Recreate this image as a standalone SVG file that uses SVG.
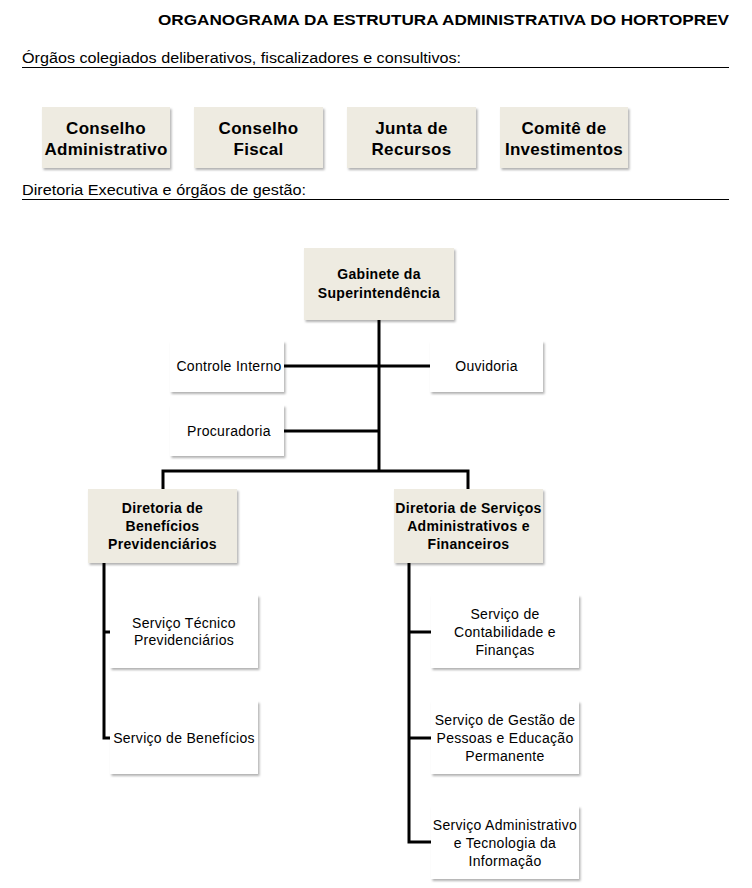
<svg xmlns="http://www.w3.org/2000/svg" width="752" height="888" viewBox="0 0 752 888">
<style>
text{font-family:"Liberation Sans",Arial,sans-serif;fill:#000}
.t{font-size:14px;font-weight:bold}
.h{font-size:14px}
.b16{font-size:17px;font-weight:bold;text-anchor:middle;letter-spacing:0.3px}
.b13{font-size:14px;font-weight:bold;text-anchor:middle;letter-spacing:0.3px}
.r13{font-size:14px;text-anchor:middle;letter-spacing:0.3px}
.beige{fill:#EEEBE1;filter:url(#sh)}
.white{fill:#FFFFFF;filter:url(#sh)}
.ln{stroke:#000;stroke-width:3;fill:none}
.ul{stroke:#000;stroke-width:1.2}
</style>
<defs>
<filter id="sh" x="-10%" y="-10%" width="125%" height="130%">
<feDropShadow dx="1.5" dy="2" stdDeviation="1.2" flood-color="#000" flood-opacity="0.3"/>
</filter>
</defs>
<rect width="752" height="888" fill="#fff"/>
<text class="t" x="158" y="25" textLength="571" lengthAdjust="spacingAndGlyphs">ORGANOGRAMA DA ESTRUTURA ADMINISTRATIVA DO HORTOPREV</text>
<text class="h" x="22" y="63" textLength="439" lengthAdjust="spacingAndGlyphs">Órgãos colegiados deliberativos, fiscalizadores e consultivos:</text>
<line class="ul" x1="22" y1="67.5" x2="729" y2="67.5"/>
<text class="h" x="22" y="195" textLength="284" lengthAdjust="spacingAndGlyphs">Diretoria Executiva e órgãos de gestão:</text>
<line class="ul" x1="22" y1="199.5" x2="729" y2="199.5"/>

<g id="connectors">
<path class="ln" d="M379 320 V471"/>
<path class="ln" d="M284 366 H430"/>
<path class="ln" d="M284 431 H379"/>
<path class="ln" d="M163 489 V471 H468 V489"/>
<path class="ln" d="M104 563 V738 H110"/>
<path class="ln" d="M104 632 H110"/>
<path class="ln" d="M409 563 V842 H431"/>
<path class="ln" d="M409 632 H431"/>
<path class="ln" d="M409 738 H431"/>
</g>

<g id="conselho-administrativo"><rect class="beige" x="42" y="107" width="128" height="61"/><text class="b16" x="106" y="134">Conselho</text><text class="b16" x="106" y="155">Administrativo</text></g>
<g id="conselho-fiscal"><rect class="beige" x="194" y="107" width="129" height="61"/><text class="b16" x="258.5" y="134">Conselho</text><text class="b16" x="258.5" y="155">Fiscal</text></g>
<g id="junta-recursos"><rect class="beige" x="347" y="107" width="129" height="61"/><text class="b16" x="411.5" y="134">Junta de</text><text class="b16" x="411.5" y="155">Recursos</text></g>
<g id="comite-investimentos"><rect class="beige" x="500" y="107" width="128" height="61"/><text class="b16" x="564" y="134">Comitê de</text><text class="b16" x="564" y="155">Investimentos</text></g>

<g id="gabinete"><rect class="beige" x="304" y="248" width="150" height="72"/><text class="b13" x="379" y="279">Gabinete da</text><text class="b13" x="379" y="298">Superintendência</text></g>
<g id="controle-interno"><rect class="white" x="170" y="341" width="114" height="51"/><text class="r13" x="229" y="371">Controle Interno</text></g>
<g id="ouvidoria"><rect class="white" x="430" y="341" width="113" height="51"/><text class="r13" x="486.5" y="371">Ouvidoria</text></g>
<g id="procuradoria"><rect class="white" x="170" y="405" width="114" height="51"/><text class="r13" x="229" y="436">Procuradoria</text></g>

<g id="diretoria-beneficios"><rect class="beige" x="88" y="489" width="149" height="74"/><text class="b13" x="162.5" y="513">Diretoria de</text><text class="b13" x="162.5" y="531">Benefícios</text><text class="b13" x="162.5" y="549">Previdenciários</text></g>
<g id="diretoria-servicos"><rect class="beige" x="394" y="489" width="149" height="74"/><text class="b13" x="468.5" y="513">Diretoria de Serviços</text><text class="b13" x="468.5" y="531">Administrativos e</text><text class="b13" x="468.5" y="549">Financeiros</text></g>

<g id="servico-tecnico"><rect class="white" x="110" y="595" width="148" height="73"/><text class="r13" x="184" y="628">Serviço Técnico</text><text class="r13" x="184" y="645">Previdenciários</text></g>
<g id="servico-beneficios"><rect class="white" x="110" y="701" width="148" height="73"/><text class="r13" x="184" y="743">Serviço de Benefícios</text></g>

<g id="servico-contabilidade"><rect class="white" x="431" y="595" width="148" height="73"/><text class="r13" x="505" y="619">Serviço de</text><text class="r13" x="505" y="637">Contabilidade e</text><text class="r13" x="505" y="655">Finanças</text></g>
<g id="servico-gestao-pessoas"><rect class="white" x="431" y="701" width="148" height="73"/><text class="r13" x="505" y="725">Serviço de Gestão de</text><text class="r13" x="505" y="743">Pessoas e Educação</text><text class="r13" x="505" y="761">Permanente</text></g>
<g id="servico-administrativo"><rect class="white" x="431" y="806" width="148" height="73"/><text class="r13" x="505" y="830">Serviço Administrativo</text><text class="r13" x="505" y="848">e Tecnologia da</text><text class="r13" x="505" y="866">Informação</text></g>
</svg>
